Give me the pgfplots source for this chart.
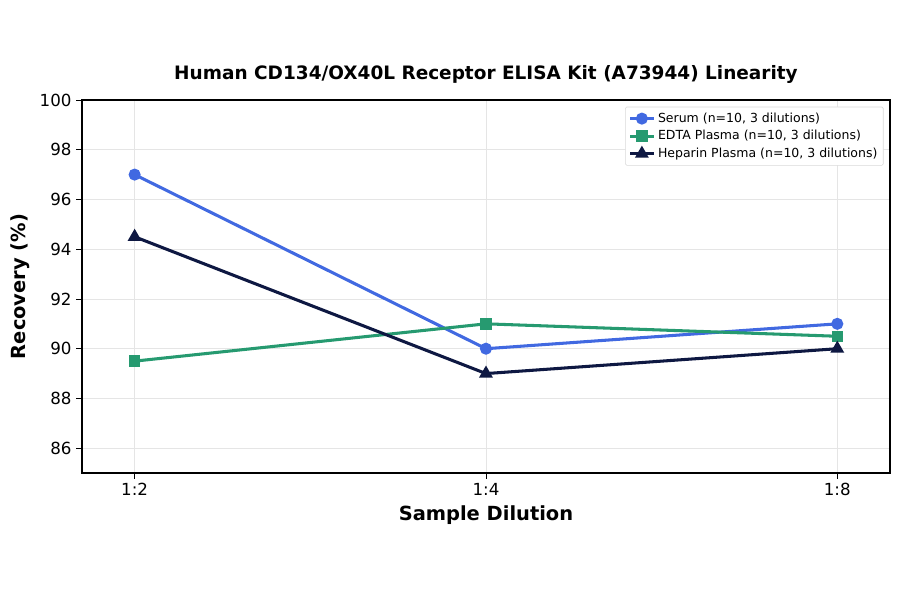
\documentclass[border=0pt]{standalone}
\usepackage{fontspec}
\setmainfont{DejaVu Sans}
\usepackage{pgfplots}
\pgfplotsset{compat=1.18}
\usetikzlibrary{calc}
\definecolor{serum}{RGB}{65,105,225}
\definecolor{edta}{RGB}{38,154,112}
\definecolor{heparin}{RGB}{14,24,66}
\begin{document}
\begin{tikzpicture}
\begin{axis}[
  name=ax,
  width=581.8pt, height=268.6pt,
  scale only axis,
  xmin=-0.15, xmax=2.15,
  ymin=85, ymax=100,
  xtick={0,1,2},
  xticklabels={1:2,1:4,1:8},
  ytick={86,88,...,100},
  /pgf/number format/assume math mode=true,
  tick label style={font=\fontsize{12}{14}\selectfont},
  tick align=outside,
  xtick pos=bottom, ytick pos=left,
  tick style={black, thin},
  major tick length=4pt,
  grid=major,
  grid style={gray!20, line width=0.5pt},
  axis line style={black, line width=0.9pt},
  title={\bfseries Human CD134/OX40L Receptor ELISA Kit (A73944) Linearity},
  title style={font=\fontsize{13.3}{15}\selectfont, yshift=2pt},
  xlabel={\bfseries Sample Dilution},
  ylabel={\bfseries Recovery (\%)},
  label style={font=\fontsize{14}{16}\selectfont},
  legend style={font=\fontsize{9}{11}\selectfont, draw=gray!30, rounded corners=1pt,
    at={(0.992,0.982)}, anchor=north east, row sep=0.3pt, inner sep=2.2pt},
  legend cell align=left,
]
\addplot[color=serum, line width=2.2pt, mark=*, mark size=3.2pt] coordinates {(0,97) (1,90) (2,91)};
\addlegendentry{Serum (n=10, 3 dilutions)}
\addplot[color=edta, line width=2.2pt, mark=square*, mark size=3pt] coordinates {(0,89.5) (1,91) (2,90.5)};
\addlegendentry{EDTA Plasma (n=10, 3 dilutions)}
\addplot[color=heparin, line width=2.2pt, mark=triangle*, mark size=3.6pt] coordinates {(0,94.5) (1,89) (2,90)};
\addlegendentry{Heparin Plasma (n=10, 3 dilutions)}
\end{axis}
\pgfresetboundingbox
\path[use as bounding box] ($(ax.south west)+(-59pt,-87.1pt)$) rectangle ($(ax.north east)+(7.2pt,72pt)$);
\end{tikzpicture}
\end{document}
